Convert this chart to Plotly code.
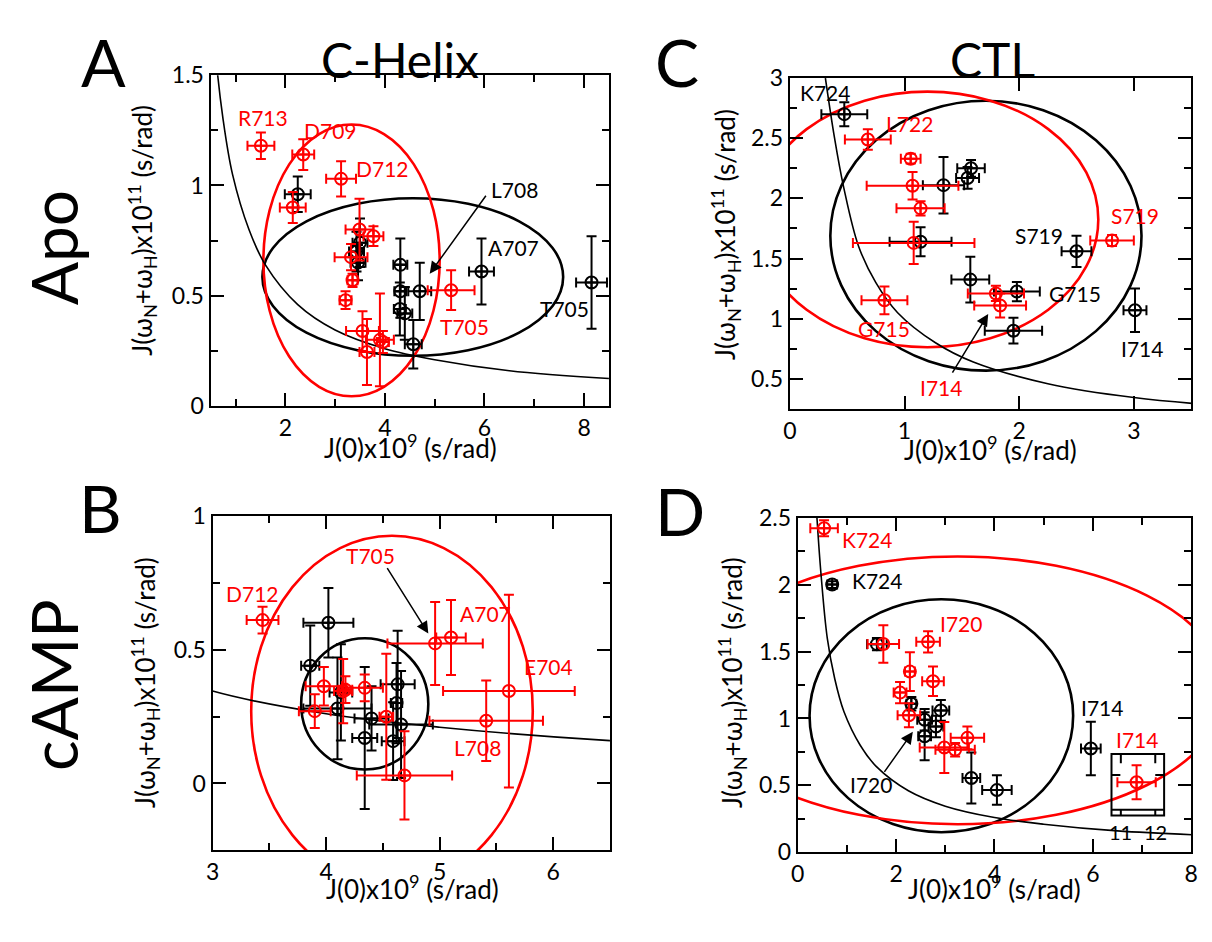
import plotly.graph_objects as go

FONT = "Lato"
RED = "#ff0000"
BLK = "#000000"

# ---------------- data: J(0) (x1e9 s/rad) and J(wN+wH) (x1e11 s/rad) ----------------
# Panel A: C-Helix, apo
A_blk_x = [2.25, 3.50, 3.43, 3.46, 4.31, 4.70, 4.31, 4.30, 4.40, 4.57, 5.94, 8.15]
A_blk_y = [0.96, 0.74, 0.70, 0.65, 0.64, 0.52, 0.52, 0.44, 0.42, 0.28, 0.61, 0.56]
A_blk_ex = [0.26, 0.15, 0.15, 0.15, 0.14, 0.23, 0.12, 0.12, 0.15, 0.17, 0.25, 0.31]
A_blk_ey = [0.08, 0.11, 0.09, 0.08, 0.12, 0.13, 0.12, 0.12, 0.12, 0.11, 0.15, 0.21]
A_red_x = [1.51, 2.36, 3.12, 2.15, 3.49, 3.77, 3.32, 3.35, 3.21, 5.33, 3.55, 3.90, 3.96, 3.64]
A_red_y = [1.18, 1.14, 1.03, 0.90, 0.80, 0.77, 0.675, 0.57, 0.48, 0.525, 0.34, 0.30, 0.29, 0.245]
A_red_ex = [0.27, 0.22, 0.30, 0.26, 0.28, 0.20, 0.33, 0.10, 0.12, 0.47, 0.33, 0.28, 0.12, 0.15]
A_red_ey = [0.06, 0.07, 0.08, 0.07, 0.14, 0.045, 0.06, 0.03, 0.04, 0.09, 0.09, 0.21, 0.05, 0.15]

# Panel B: C-Helix, cAMP
B_blk_x = [4.02, 3.86, 4.10, 4.13, 4.34, 4.40, 4.59, 4.63, 4.66, 4.62]
B_blk_y = [0.60, 0.44, 0.28, 0.34, 0.17, 0.243, 0.158, 0.37, 0.22, 0.30]
B_blk_ex = [0.22, 0.08, 0.30, 0.10, 0.11, 0.15, 0.10, 0.15, 0.28, 0.05]
B_blk_ey = [0.13, 0.15, 0.19, 0.18, 0.265, 0.12, 0.145, 0.20, 0.20, 0.15]
B_red_x = [3.44, 4.96, 5.10, 5.61, 5.41, 3.98, 4.15, 4.17, 4.34, 3.90, 4.53, 4.69]
B_red_y = [0.61, 0.523, 0.545, 0.345, 0.234, 0.363, 0.345, 0.35, 0.357, 0.27, 0.249, 0.03]
B_red_ex = [0.14, 0.42, 0.13, 0.58, 0.50, 0.16, 0.08, 0.06, 0.16, 0.14, 0.06, 0.42]
B_red_ey = [0.05, 0.155, 0.14, 0.36, 0.15, 0.072, 0.12, 0.05, 0.05, 0.063, 0.235, 0.165]

# Panel C: CTL, apo
C_blk_x = [0.475, 1.34, 1.58, 1.55, 1.14, 2.50, 1.574, 1.98, 1.95, 3.01]
C_blk_y = [2.70, 2.11, 2.25, 2.17, 1.64, 1.56, 1.325, 1.226, 0.90, 1.07]
C_blk_ex = [0.20, 0.18, 0.12, 0.10, 0.27, 0.13, 0.165, 0.20, 0.25, 0.10]
C_blk_ey = [0.10, 0.235, 0.07, 0.09, 0.12, 0.13, 0.19, 0.08, 0.107, 0.18]
C_red_x = [0.68, 1.054, 1.07, 1.14, 1.08, 2.81, 0.825, 1.797, 1.834]
C_red_y = [2.49, 2.33, 2.105, 1.917, 1.63, 1.65, 1.153, 1.21, 1.11]
C_red_ex = [0.20, 0.086, 0.40, 0.21, 0.53, 0.19, 0.20, 0.245, 0.226]
C_red_ey = [0.085, 0.04, 0.115, 0.06, 0.175, 0.045, 0.115, 0.063, 0.10]

# Panel D: CTL, cAMP
D_blk_x = [0.70, 1.61, 2.31, 2.91, 2.58, 2.81, 2.58, 3.53, 4.05, 5.96]
D_blk_y = [2.00, 1.555, 1.11, 1.06, 0.99, 0.94, 0.867, 0.555, 0.465, 0.776]
D_blk_ex = [0.10, 0.20, 0.10, 0.17, 0.15, 0.15, 0.13, 0.18, 0.30, 0.20]
D_blk_ey = [0.025, 0.045, 0.05, 0.077, 0.08, 0.08, 0.18, 0.19, 0.11, 0.20]
D_red_x = [0.535, 1.74, 2.65, 2.28, 2.75, 2.08, 2.26, 2.98, 3.20, 3.45, 6.89]
D_red_y = [2.42, 1.556, 1.572, 1.35, 1.278, 1.193, 1.024, 0.783, 0.766, 0.855, 0.524]
D_red_ex = [0.28, 0.32, 0.24, 0.10, 0.22, 0.13, 0.23, 0.50, 0.40, 0.34, 0.39]
D_red_ey = [0.06, 0.14, 0.08, 0.145, 0.11, 0.08, 0.09, 0.19, 0.05, 0.085, 0.127]

# Rigid-rotor reference curve (shared by all panels)
CURVE_X = [0.31, 0.39, 0.47, 0.60, 0.75, 0.94, 1.27, 1.60, 2.25, 3.00, 4.00, 5.00, 6.50, 8.50]
CURVE_Y = [3.00, 2.50, 2.09, 1.60, 1.30, 1.05, 0.80, 0.64, 0.46, 0.345, 0.26, 0.21, 0.16, 0.125]

# Ellipses: (center x, center y, semi-axis x, semi-axis y)
ELL_A_BLK = (4.56, 0.585, 3.02, 0.357)
ELL_A_RED = (3.33, 0.66, 1.77, 0.616)
ELL_B_BLK = (4.34, 0.297, 0.56, 0.245)
ELL_B_RED = (4.58, 0.27, 1.24, 0.655)
ELL_C_BLK = (1.71, 1.69, 1.357, 1.122)
ELL_C_RED = (1.20, 1.825, 1.49, 1.062)
ELL_D_BLK = (2.92, 1.02, 2.68, 0.87)
ELL_D_RED = (3.25, 1.21, 5.45, 1.00)

W, H = 1212, 942


def px(v):
    return v / W


def py(v):
    return 1 - v / H


fig = go.Figure()

panels = [
    ("x", "y", A_blk_x, A_blk_y, A_blk_ex, A_blk_ey, A_red_x, A_red_y, A_red_ex, A_red_ey),
    ("x2", "y2", B_blk_x, B_blk_y, B_blk_ex, B_blk_ey, B_red_x, B_red_y, B_red_ex, B_red_ey),
    ("x3", "y3", C_blk_x, C_blk_y, C_blk_ex, C_blk_ey, C_red_x, C_red_y, C_red_ex, C_red_ey),
    ("x4", "y4", D_blk_x, D_blk_y, D_blk_ex, D_blk_ey, D_red_x, D_red_y, D_red_ex, D_red_ey),
]


def pts(xr, yr, xs, ys, ex, ey, col):
    return go.Scatter(
        x=xs, y=ys, xaxis=xr, yaxis=yr, mode="markers", showlegend=False,
        marker=dict(symbol="circle-cross-open", size=12, color=col, line=dict(width=2, color=col)),
        error_x=dict(type="data", array=ex, color=col, thickness=2, width=5),
        error_y=dict(type="data", array=ey, color=col, thickness=2, width=5),
        cliponaxis=True,
    )


for xr, yr, bx, by, bex, bey, rx, ry, rex, rey in panels:
    fig.add_trace(go.Scatter(x=CURVE_X, y=CURVE_Y, xaxis=xr, yaxis=yr, mode="lines",
                             line=dict(color=BLK, width=1.6, shape="spline", smoothing=1.0),
                             showlegend=False, hoverinfo="skip"))
    fig.add_trace(pts(xr, yr, bx, by, bex, bey, BLK))
    fig.add_trace(pts(xr, yr, rx, ry, rex, rey, RED))

shapes = []


def ellipse(e, xr, yr, col):
    cx, cy, a, b = e
    shapes.append(dict(type="circle", xref=xr, yref=yr, x0=cx - a, x1=cx + a, y0=cy - b, y1=cy + b,
                       line=dict(color=col, width=2.6), layer="below"))


ellipse(ELL_A_BLK, "x", "y", BLK)
ellipse(ELL_A_RED, "x", "y", RED)
ellipse(ELL_B_BLK, "x2", "y2", BLK)
ellipse(ELL_B_RED, "x2", "y2", RED)
ellipse(ELL_C_BLK, "x3", "y3", BLK)
ellipse(ELL_C_RED, "x3", "y3", RED)
ellipse(ELL_D_BLK, "x4", "y4", BLK)
ellipse(ELL_D_RED, "x4", "y4", RED)

# inset frame for the off-scale I714 point (J(0) between 11 and 12)
bx0, bx1, by0, by1, base = 6.38, 7.45, 0.275, 0.735, 0.319
shapes.append(dict(type="rect", xref="x4", yref="y4", x0=bx0, x1=bx1, y0=by0, y1=by1,
                   line=dict(color=BLK, width=2)))
shapes.append(dict(type="line", xref="x4", yref="y4", x0=bx0, x1=bx1, y0=base, y1=base,
                   line=dict(color=BLK, width=2)))
for tx in (6.57, 7.27):
    shapes.append(dict(type="line", xref="x4", yref="y4", x0=tx, x1=tx, y0=by1, y1=by1 - 0.07,
                       line=dict(color=BLK, width=2)))
    shapes.append(dict(type="line", xref="x4", yref="y4", x0=tx, x1=tx, y0=by0, y1=base,
                       line=dict(color=BLK, width=2)))
shapes.append(dict(type="line", xref="x4", yref="y4", x0=bx0, x1=bx0 + 0.18, y0=0.578, y1=0.578,
                   line=dict(color=BLK, width=2)))
shapes.append(dict(type="line", xref="x4", yref="y4", x0=bx1 - 0.18, x1=bx1, y0=0.578, y1=0.578,
                   line=dict(color=BLK, width=2)))

ann = []


def lab(text, x, y, xr, yr, col, size=21):
    ann.append(dict(text=text, x=x, y=y, xref=xr, yref=yr, showarrow=False,
                    font=dict(family=FONT, size=size, color=col), xanchor="center", yanchor="middle"))


def arrow(x, y, ax, ay, xr, yr):
    ann.append(dict(text="", x=x, y=y, ax=ax, ay=ay, xref=xr, yref=yr, axref=xr, ayref=yr,
                    showarrow=True, arrowhead=2, arrowsize=1.6, arrowwidth=1.5, arrowcolor=BLK,
                    standoff=0, startstandoff=0))


# residue labels
lab("R713", 1.56, 1.31, "x", "y", RED)
lab("D709", 2.90, 1.25, "x", "y", RED)
lab("D712", 3.96, 1.075, "x", "y", RED)
lab("L708", 6.61, 0.98, "x", "y", BLK)
lab("A707", 6.58, 0.72, "x", "y", BLK)
lab("T705", 7.60, 0.44, "x", "y", BLK)
lab("T705", 5.60, 0.36, "x", "y", RED)
arrow(4.9, 0.6, 6.05, 0.96, "x", "y")

lab("D712", 3.35, 0.71, "x2", "y2", RED)
lab("T705", 4.39, 0.85, "x2", "y2", RED)
lab("A707", 5.40, 0.635, "x2", "y2", RED)
lab("E704", 5.96, 0.436, "x2", "y2", RED)
lab("L708", 5.33, 0.134, "x2", "y2", RED)
arrow(4.9, 0.56, 4.53, 0.81, "x2", "y2")

lab("K724", 0.31, 2.88, "x3", "y3", BLK)
lab("L722", 1.04, 2.62, "x3", "y3", RED)
lab("S719", 2.17, 1.69, "x3", "y3", BLK)
lab("S719", 3.01, 1.86, "x3", "y3", RED)
lab("G715", 2.49, 1.21, "x3", "y3", BLK)
lab("G715", 0.82, 0.92, "x3", "y3", RED)
lab("I714", 3.07, 0.755, "x3", "y3", BLK)
lab("I714", 1.32, 0.43, "x3", "y3", RED)
arrow(1.73, 1.04, 1.41, 0.54, "x3", "y3")

lab("K724", 1.41, 2.34, "x4", "y4", RED)
lab("K724", 1.61, 2.03, "x4", "y4", BLK)
lab("I720", 3.31, 1.71, "x4", "y4", RED)
lab("I720", 1.49, 0.506, "x4", "y4", BLK)
lab("I714", 6.19, 1.085, "x4", "y4", BLK)
lab("I714", 6.90, 0.844, "x4", "y4", RED)
lab("11", 6.57, 0.15, "x4", "y4", BLK, 20)
lab("12", 7.27, 0.15, "x4", "y4", BLK, 20)
arrow(2.34, 0.90, 1.74, 0.59, "x4", "y4")


def paper_text(text, x, y, size, angle=0):
    ann.append(dict(text=text, x=px(x), y=py(y), xref="paper", yref="paper", showarrow=False,
                    textangle=angle, font=dict(family=FONT, size=size, color=BLK),
                    xanchor="center", yanchor="middle"))


XT = "J(0)x10<sup>9</sup> (s/rad)"
YT = "J(ω<sub>N</sub>+ω<sub>H</sub>)x10<sup>11</sup> (s/rad)"
paper_text(XT, 408, 445, 26)
paper_text(XT, 410, 899, 26)
paper_text(XT, 995, 447, 26)
paper_text(XT, 999, 899, 26)
paper_text(YT, 137, 222, 26, -90)
paper_text(YT, 139, 688, 26, -90)
paper_text(YT, 727, 226, 26, -90)
paper_text(YT, 733, 688, 26, -90)

paper_text("A", 98, 48, 66)
paper_text("B", 95, 508, 66)
paper_text("C", 678, 48, 66)
paper_text("D", 681, 511, 66)
paper_text("C-Helix", 398, 46, 48)
paper_text("CTL", 997, 46, 48)
paper_text("Apo", 47, 240, 64, -90)
paper_text("cAMP", 47, 690, 64, -90)


def axis(dom, rng, dtick, minor_dtick, anchor):
    d = dict(domain=dom, range=rng, anchor=anchor, tick0=0, dtick=dtick,
             showline=True, linecolor=BLK, linewidth=2.2, mirror="allticks",
             ticks="inside", ticklen=13, tickwidth=2, tickcolor=BLK,
             showgrid=False, zeroline=False,
             tickfont=dict(family=FONT, size=23, color=BLK))
    if minor_dtick:
        d["minor"] = dict(dtick=minor_dtick, ticks="inside", ticklen=7, tickwidth=2,
                          tickcolor=BLK, showgrid=False)
    return d


fig.update_layout(
    width=W, height=H, margin=dict(l=0, r=0, t=0, b=0),
    paper_bgcolor="white", plot_bgcolor="white",
    font=dict(family=FONT, color=BLK),
    xaxis=axis([px(206), px(609)], [0.5, 8.5], 2, 1, "y"),
    yaxis=axis([py(403), py(62)], [0, 1.5], 0.5, 0.25, "x"),
    xaxis2=axis([px(208), px(610)], [3, 6.5], 1, 0.5, "y2"),
    yaxis2=axis([py(861), py(516)], [-0.25, 1], 0.5, 0.25, "x2"),
    xaxis3=axis([px(792), px(1198)], [0, 3.5], 1, None, "y3"),
    yaxis3=axis([py(406), py(65)], [0.25, 3], 0.5, 0.25, "x3"),
    xaxis4=axis([px(800), px(1198)], [0, 8], 2, 1, "y4"),
    yaxis4=axis([py(863), py(518)], [0, 2.5], 0.5, 0.25, "x4"),
    shapes=shapes,
    annotations=ann,
)

fig.write_html("out.html")
